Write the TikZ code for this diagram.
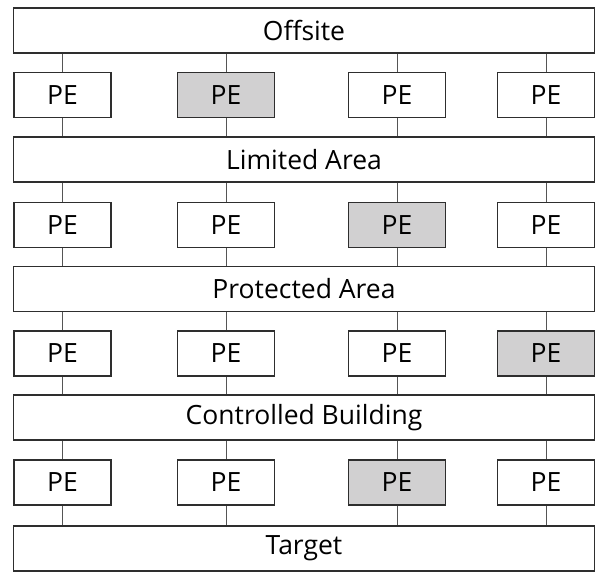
\documentclass[tikz,border=0pt]{standalone}
\usepackage{fontspec}
\setmainfont{Open Sans}
\definecolor{edgec}{HTML}{2E2E2E}
\definecolor{linkc}{HTML}{555555}
\definecolor{shade}{HTML}{D1D0D1}
\begin{document}
\begin{tikzpicture}[x=1pt,y=-1pt,
  bar/.style={draw=edgec,line width=1.6pt,fill=white,minimum width=581pt,minimum height=45pt,inner sep=0pt,font=\fontsize{26.5}{30}\selectfont},
  pebox/.style={draw=edgec,line width=1.6pt,fill=white,minimum width=97pt,minimum height=45pt,inner sep=0pt,font=\fontsize{26.5}{30}\selectfont},
  hot/.style={fill=shade},
  link/.style={draw=linkc,line width=1pt}]
\useasboundingbox (0,0) rectangle (596,574);
% bars
\node[bar] (b0) at (304,30.5) {Offsite};
\node[bar] (b1) at (304,159.5) {Limited Area};
\node[bar] (b2) at (304,289) {Protected Area};
\node[bar] (b3) at (304,417.5) {Controlled Building};
\node[bar] (b4) at (304,548.5) {Target};
% PE row 1
\node[pebox] (p11) at (62.5,95) {PE};
\node[pebox,hot] (p12) at (226,95) {PE};
\node[pebox] (p13) at (397,95) {PE};
\node[pebox] (p14) at (546,95) {PE};
% PE row 2
\node[pebox] (p21) at (62.5,225) {PE};
\node[pebox] (p22) at (226,225) {PE};
\node[pebox,hot] (p23) at (397,225) {PE};
\node[pebox] (p24) at (546,225) {PE};
% PE row 3
\node[pebox] (p31) at (62.5,353.5) {PE};
\node[pebox] (p32) at (226,353.5) {PE};
\node[pebox] (p33) at (397,353.5) {PE};
\node[pebox,hot] (p34) at (546,353.5) {PE};
% PE row 4
\node[pebox] (p41) at (62.5,482.5) {PE};
\node[pebox] (p42) at (226,482.5) {PE};
\node[pebox,hot] (p43) at (397,482.5) {PE};
\node[pebox] (p44) at (546,482.5) {PE};
% connectors
\foreach \r/\a/\b in {1/b0/b1,2/b1/b2,3/b2/b3,4/b3/b4}{
  \foreach \c in {1,2,3,4}{
    \draw[link] (p\r\c.north |- \a.south) -- (p\r\c.north);
    \draw[link] (p\r\c.south) -- (p\r\c.south |- \b.north);
  }
}
\end{tikzpicture}
\end{document}
